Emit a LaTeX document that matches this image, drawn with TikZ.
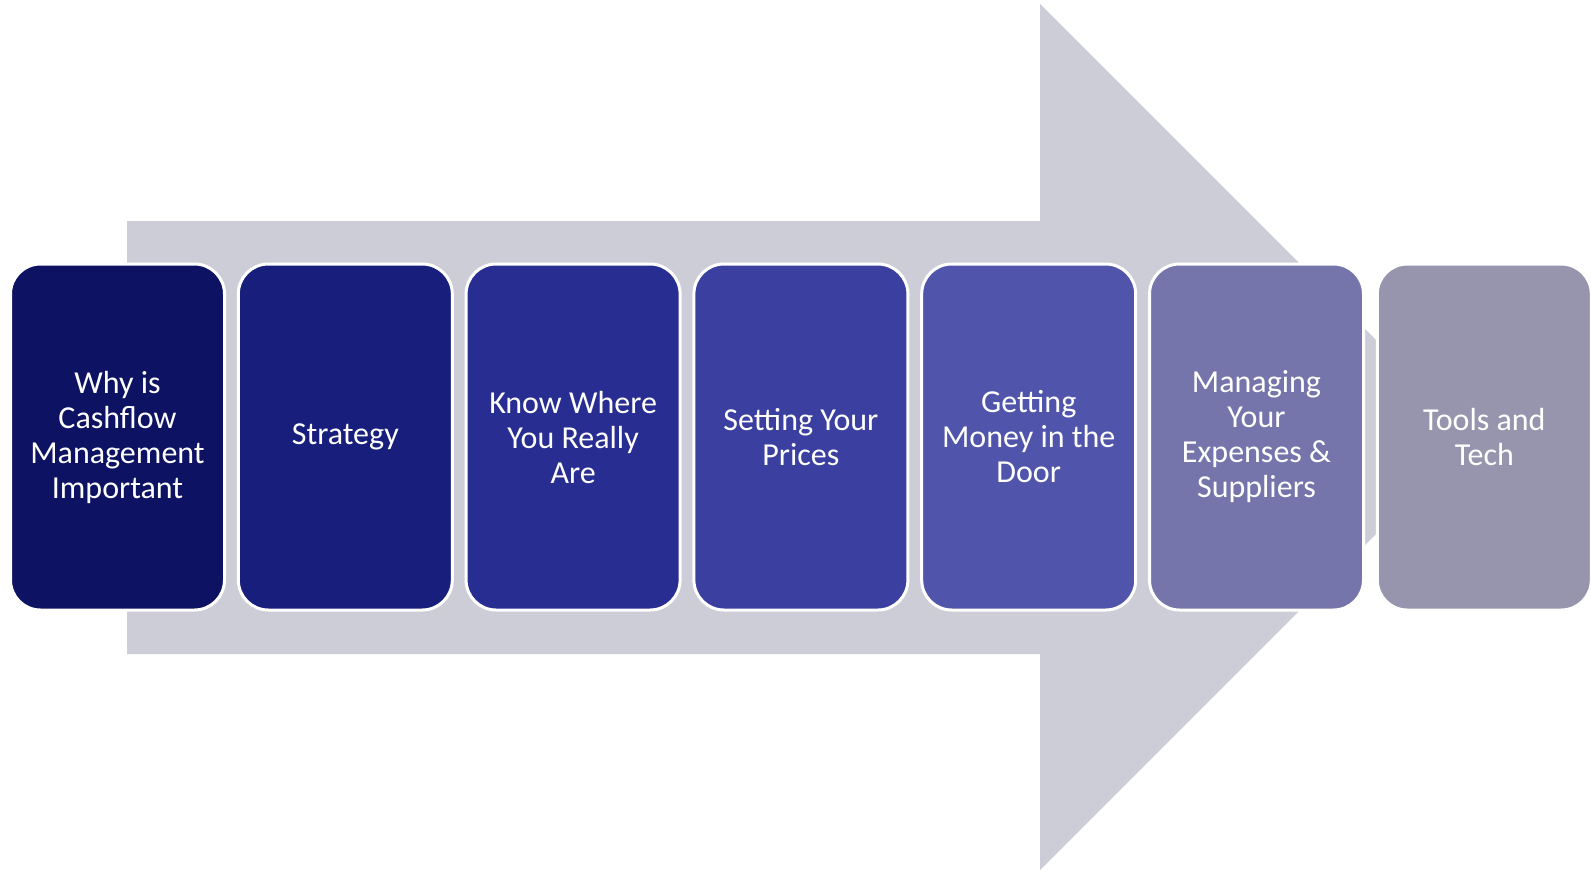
\documentclass[tikz,border=0pt]{standalone}
\usepackage{fontspec}
\setmainfont{Carlito}
\definecolor{arrowgray}{HTML}{CDCDD7}
\definecolor{c1}{HTML}{0D1263}
\definecolor{c2}{HTML}{171E7C}
\definecolor{c3}{HTML}{282D91}
\definecolor{c4}{HTML}{3B40A0}
\definecolor{c5}{HTML}{5055AB}
\definecolor{c6}{HTML}{7575AB}
\definecolor{c7}{HTML}{9695AD}
\begin{document}
\begin{tikzpicture}[x=1pt,y=-1pt,
  stepbox/.style={draw=white, line width=3pt, rounded corners=30pt,
    minimum width=214pt, minimum height=346pt, inner sep=0pt,
    align=center, text=white, font=\fontsize{32}{35}\selectfont}]
\useasboundingbox (0,0) rectangle (1591,873);
\fill[arrowgray] (127,221) -- (1040,221) -- (1040,4) -- (1473,437) -- (1040,870) -- (1040,654) -- (127,654) -- cycle;
\node[stepbox, fill=c1] (b1) at (117.5,437) {Why is\\Cashflow\\Management\\Important};
\node[stepbox, fill=c2] (b2) at (345.3,437) {Strategy};
\node[stepbox, fill=c3] (b3) at (573.1,437) {Know Where\\You Really\\Are};
\node[stepbox, fill=c4] (b4) at (800.9,437) {Setting Your\\Prices};
\node[stepbox, fill=c5] (b5) at (1028.7,437) {Getting\\Money in the\\Door};
\node[stepbox, fill=c6] (b6) at (1256.5,437) {Managing\\Your\\Expenses \&\\Suppliers};
\node[stepbox, fill=c7] (b7) at (1484.3,437) {Tools and\\Tech};
\end{tikzpicture}
\end{document}
